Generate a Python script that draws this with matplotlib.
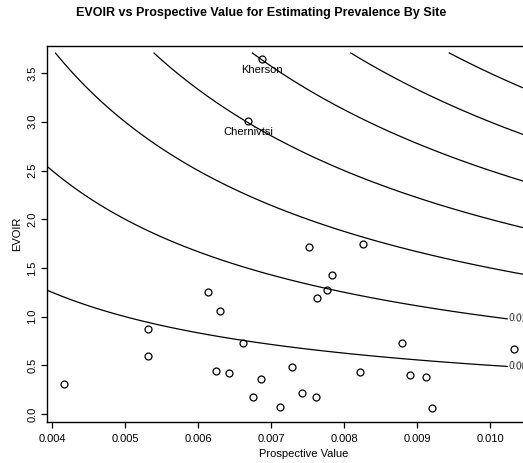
import numpy as np
import matplotlib.pyplot as plt

plt.rcParams['font.family'] = ['Liberation Sans', 'DejaVu Sans']

# sites: prospective value vs EVOIR
prospective = [0.00417, 0.00531, 0.00531, 0.00614, 0.00630, 0.00625, 0.00642,
               0.00661, 0.00675, 0.00686, 0.00784, 0.00777, 0.00763, 0.00879,
               0.01033, 0.00729, 0.00822, 0.00891, 0.00912, 0.00742, 0.00762,
               0.00712, 0.00920, 0.00752, 0.00826, 0.00687, 0.00669]
evoir = [0.305, 0.876, 0.595, 1.256, 1.057, 0.441, 0.424,
         0.729, 0.178, 0.356, 1.427, 1.276, 1.191, 0.729,
         0.667, 0.483, 0.428, 0.404, 0.383, 0.219, 0.178,
         0.075, 0.065, 1.718, 1.742, 3.645, 3.008]
labels = {'Kherson': (0.00687, 3.645), 'Chernivtsi': (0.00669, 3.008)}

# contour levels of EVOIR * prospective value
levels = [0.005, 0.01, 0.015, 0.02, 0.025, 0.03, 0.035, 0.04]
label_levels = [0.005, 0.01]
label_fmt = {0.005: '0.005', 0.01: '0.01'}

W, H = 523, 463
fig = plt.figure(figsize=(W / 100, H / 100), dpi=100)
# plot region in pixels: left 47, top 46, bottom 422, right past the figure edge
ax = fig.add_axes([47 / W, (H - 422) / H, (560 - 47) / W, (422 - 46) / H])

xlim = (0.004 - 5 / 73000, 0.004 + 508 / 73000)
ylim = (-(422 - 414) / 97.4, (414 - 46) / 97.4)

gx = np.linspace(0.0039, 0.0115, 400)
gy = np.linspace(0.0, 3.71, 400)
X, Y = np.meshgrid(gx, gy)
cs = ax.contour(X, Y, X * Y, levels=levels, colors='black', linewidths=0.9)

for lv in label_levels:
    xx = 0.01025
    ax.text(xx, lv / xx, label_fmt[lv], fontsize=7, color='#222222',
            ha='left', va='center', rotation=-3,
            bbox=dict(facecolor='white', edgecolor='none', pad=0.5))

ax.plot(prospective, evoir, 'o', mfc='none', mec='black', ms=5, mew=0.9, clip_on=False)

for name, (px, py) in labels.items():
    ax.text(px, py - 0.115, name, fontsize=8, ha='center', va='center')

ax.set_xlim(xlim)
ax.set_ylim(ylim)
ax.set_xticks([0.004, 0.005, 0.006, 0.007, 0.008, 0.009, 0.010])
ax.set_xticklabels(['0.004', '0.005', '0.006', '0.007', '0.008', '0.009', '0.010'])
ax.set_yticks([0.0, 0.5, 1.0, 1.5, 2.0, 2.5, 3.0, 3.5])
ax.set_yticklabels(['0.0', '0.5', '1.0', '1.5', '2.0', '2.5', '3.0', '3.5'],
                   rotation=90, va='center')
ax.tick_params(direction='out', length=4, width=0.9, labelsize=8, pad=3)
ax.tick_params(axis='x', pad=4.5)
for s in ax.spines.values():
    s.set_linewidth(1.0)

ax.set_xlabel('Prospective Value', fontsize=8, labelpad=4)
ax.set_ylabel('EVOIR', fontsize=8, labelpad=4)
fig.text(0.5, 1 - 13 / H, 'EVOIR vs Prospective Value for Estimating Prevalence By Site',
         ha='center', va='center', fontsize=9, fontweight='bold')

fig.savefig('out.png', dpi=100)
